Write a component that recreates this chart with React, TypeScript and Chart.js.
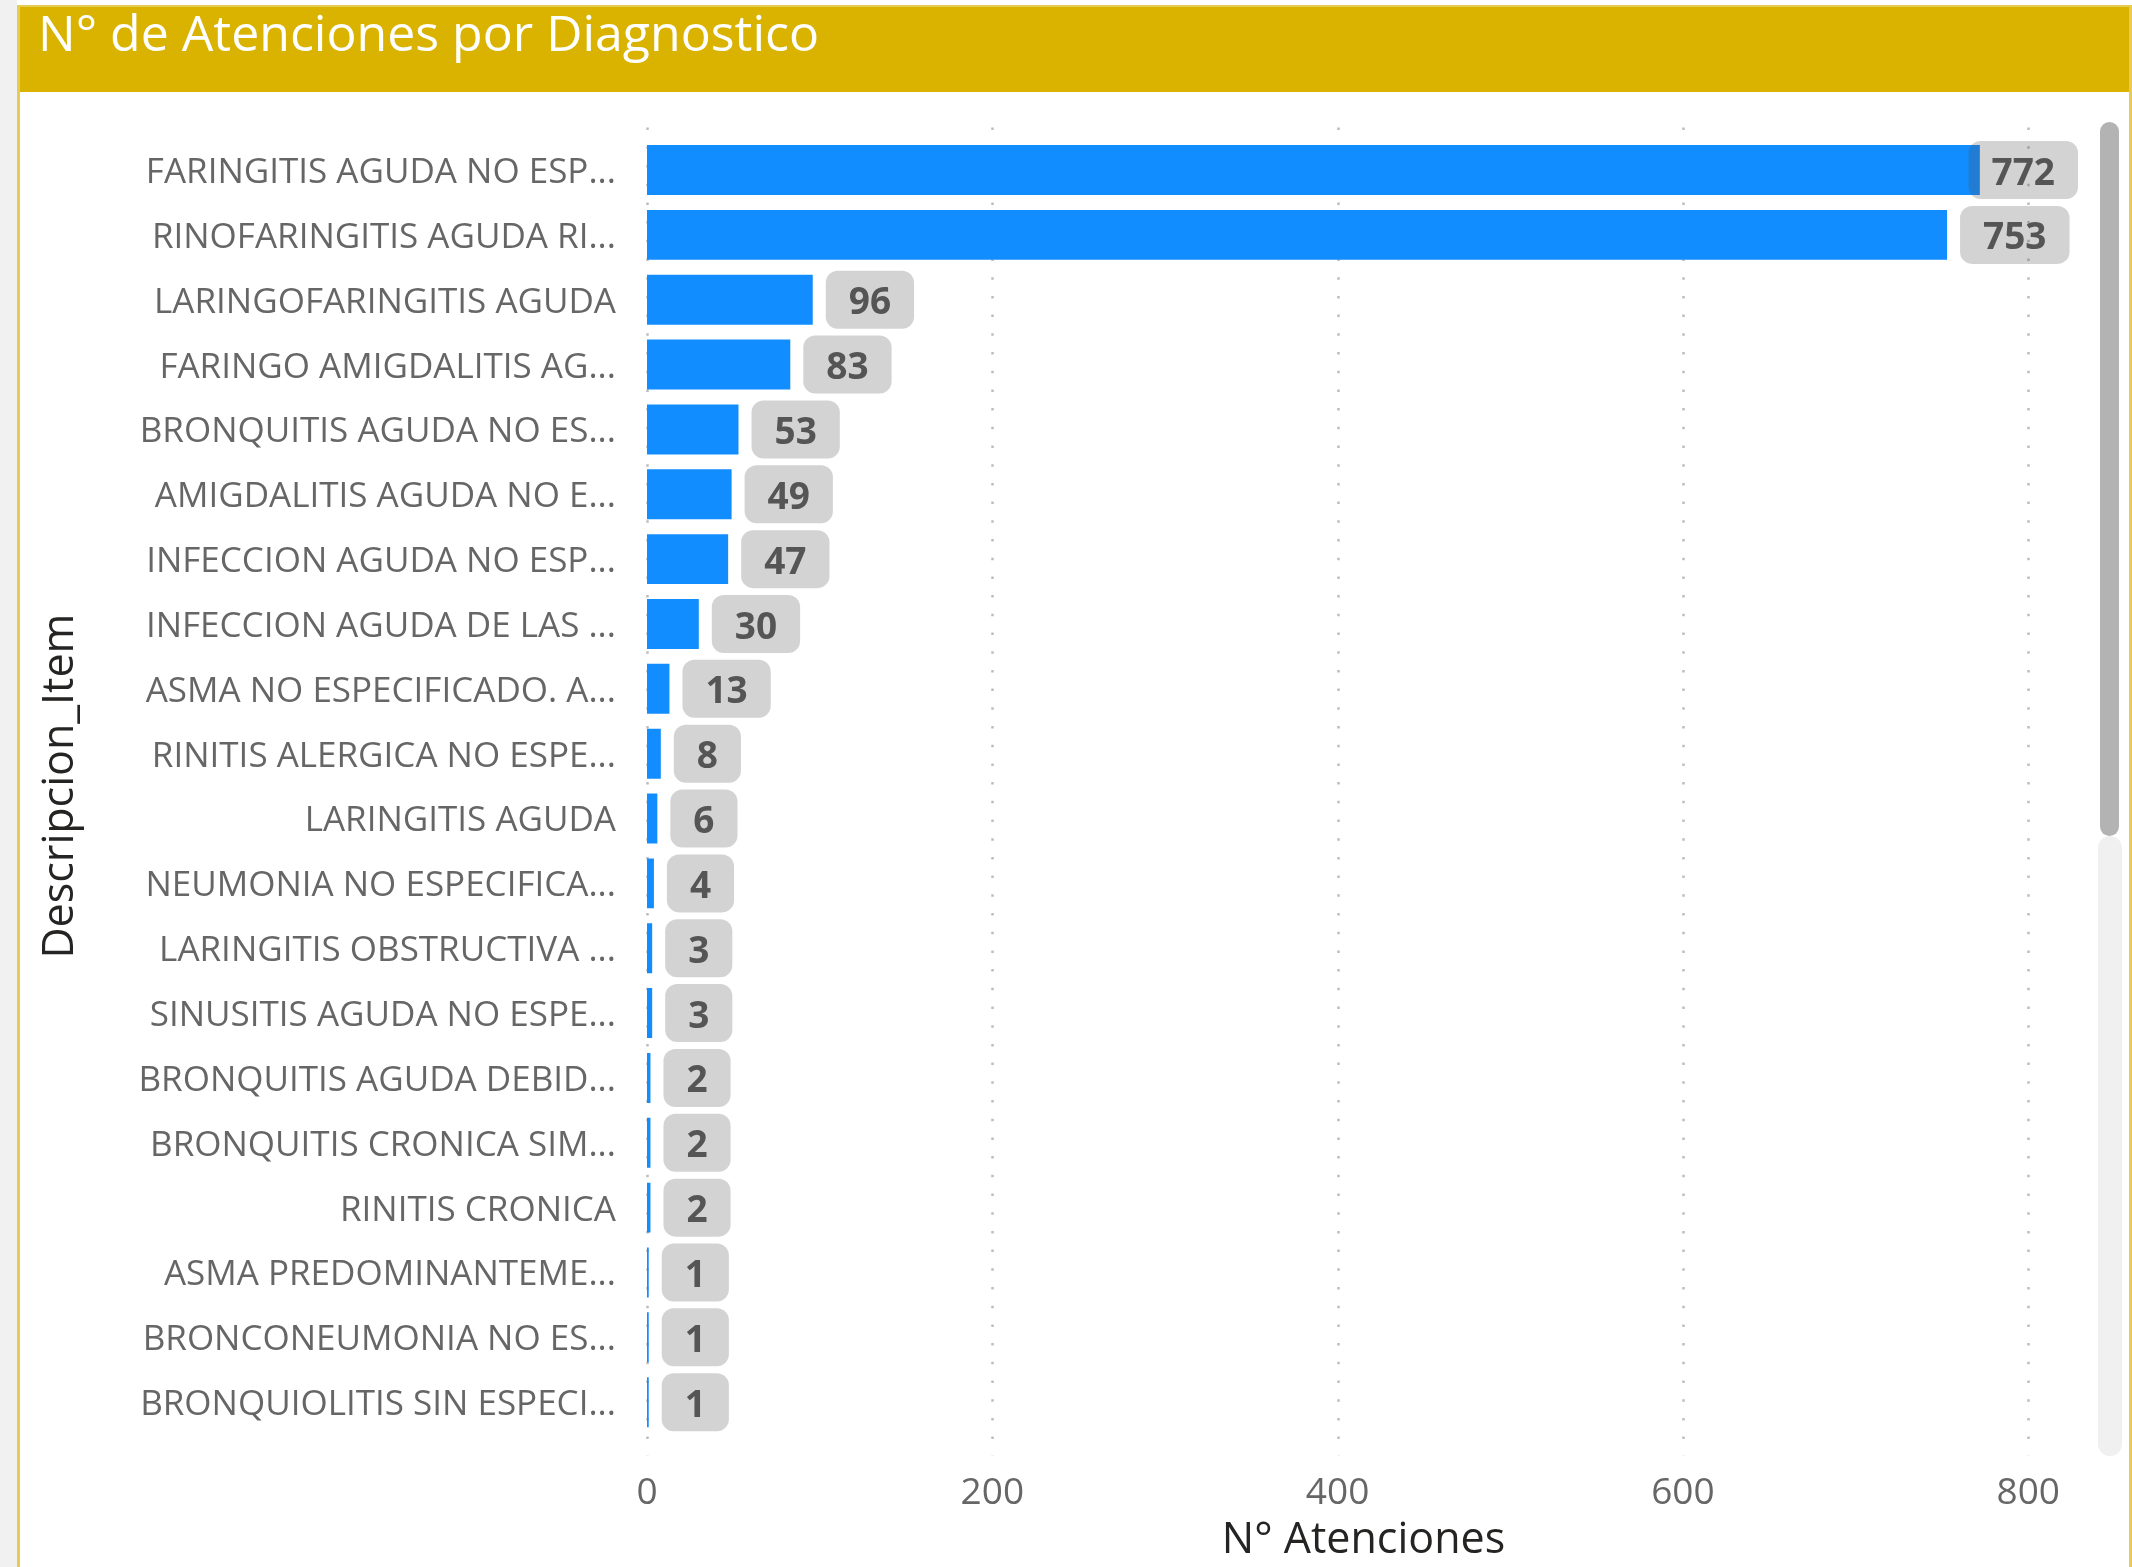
import React, { useEffect, useRef } from "react";
import { Chart, registerables } from "chart.js";

Chart.register(...registerables);

const categories = [
  "FARINGITIS AGUDA NO ESP...",
  "RINOFARINGITIS AGUDA RI...",
  "LARINGOFARINGITIS AGUDA",
  "FARINGO AMIGDALITIS AG...",
  "BRONQUITIS AGUDA NO ES...",
  "AMIGDALITIS AGUDA NO E...",
  "INFECCION AGUDA NO ESP...",
  "INFECCION AGUDA DE LAS ...",
  "ASMA NO ESPECIFICADO. A...",
  "RINITIS ALERGICA NO ESPE...",
  "LARINGITIS AGUDA",
  "NEUMONIA NO ESPECIFICA...",
  "LARINGITIS OBSTRUCTIVA ...",
  "SINUSITIS AGUDA NO ESPE...",
  "BRONQUITIS AGUDA DEBID...",
  "BRONQUITIS CRONICA SIM...",
  "RINITIS CRONICA",
  "ASMA PREDOMINANTEME...",
  "BRONCONEUMONIA NO ES...",
  "BRONQUIOLITIS SIN ESPECI...",
];

const attentions = [772, 753, 96, 83, 53, 49, 47, 30, 13, 8, 6, 4, 3, 3, 2, 2, 2, 1, 1, 1];

const xTickValues = [0, 200, 400, 600, 800];
const xMax = 830;

const chartTitle = "N° de Atenciones por Diagnostico";
const xTitle = "N° Atenciones";
const yTitle = "Descripcion_Item";

const BAR_COLOR = "#118DFF";

const dottedGrid = {
  id: "dottedGrid",
  beforeDatasetsDraw(chart: any) {
    const { ctx, chartArea, scales } = chart;
    const xs = scales.x;
    ctx.save();
    ctx.strokeStyle = "#bdbdbd";
    ctx.lineWidth = 2.5;
    ctx.setLineDash([2.5, 16.2]);
    xs.ticks.forEach((t: any) => {
      const px = Math.round(xs.getPixelForValue(t.value)) + 0.5;
      ctx.beginPath();
      ctx.moveTo(px, chartArea.top - 10);
      ctx.lineTo(px, chartArea.bottom + 21);
      ctx.stroke();
    });
    ctx.restore();
  },
};

const labelBoxes = {
  id: "labelBoxes",
  afterDatasetsDraw(chart: any) {
    const { ctx, chartArea } = chart;
    const meta = chart.getDatasetMeta(0);
    const data = chart.data.datasets[0].data as number[];
    ctx.save();
    ctx.font = "bold 37px 'Open Sans', sans-serif";
    meta.data.forEach((el: any, i: number) => {
      const text = String(data[i]);
      const tw = ctx.measureText(text).width;
      const w = tw + 46;
      const h = 58;
      let left = el.x + 13;
      if (left + w > chartArea.right - 2) left = chartArea.right - 2 - w;
      const top = el.y - h / 2;
      ctx.fillStyle = "rgba(80,80,80,0.25)";
      ctx.beginPath();
      (ctx as any).roundRect(left, top, w, h, 12);
      ctx.fill();
      ctx.fillStyle = "#555555";
      ctx.textAlign = "center";
      ctx.textBaseline = "middle";
      ctx.fillText(text, left + w / 2, el.y + 4);
    });
    ctx.restore();
  },
};

export default function App() {
  const canvasRef = useRef<HTMLCanvasElement | null>(null);

  useEffect(() => {
    document.body.style.margin = "0";
    const canvas = canvasRef.current;
    if (!canvas) return;
    Chart.defaults.font.family = "'Open Sans', sans-serif";
    const chart = new Chart(canvas, {
      type: "bar",
      data: {
        labels: categories,
        datasets: [
          {
            data: attentions,
            backgroundColor: BAR_COLOR,
            borderWidth: 0,
            barPercentage: 0.77,
            categoryPercentage: 1,
          },
        ],
      },
      options: {
        indexAxis: "y",
        animation: false,
        responsive: false,
        layout: { padding: { top: 45.6, right: 52, bottom: 0, left: 0 } },
        plugins: {
          legend: { display: false },
          tooltip: { enabled: false },
          title: { display: false },
        },
        scales: {
          x: {
            type: "linear",
            min: 0,
            max: xMax,
            afterBuildTicks: (scale: any) => {
              scale.ticks = xTickValues.map((v) => ({ value: v }));
            },
            afterFit: (scale: any) => {
              scale.height = 132.4;
              scale.paddingLeft = 0;
              scale.paddingRight = 0;
            },
            border: { display: false },
            grid: { display: false, drawTicks: false },
            ticks: {
              padding: 37,
              color: "#666666",
              font: { size: 37 },
            },
            title: {
              display: true,
              text: xTitle,
              color: "#252423",
              font: { size: 43 },
              padding: { top: 0, bottom: 0 },
            },
          },
          y: {
            afterFit: (scale: any) => {
              scale.width = 647;
              scale.paddingTop = 0;
              scale.paddingBottom = 0;
            },
            border: { display: false },
            grid: { display: false, drawTicks: false },
            ticks: {
              padding: 31,
              labelOffset: 3,
              color: "#666666",
              font: { size: 35 },
              autoSkip: false,
            },
            title: {
              display: true,
              text: yTitle,
              color: "#252423",
              font: { size: 43 },
              padding: { top: 35, bottom: 0 },
            },
          },
        },
      },
      plugins: [dottedGrid, labelBoxes],
    } as any);
    return () => chart.destroy();
  }, []);

  return (
    <div style={{ position: "relative", width: 2132, height: 1567, background: "#ffffff", overflow: "hidden" }}>
      <div style={{ position: "absolute", left: 0, top: 0, width: 17, height: 1567, background: "#f1f1f1" }} />
      <div
        style={{
          position: "absolute",
          left: 17,
          top: 5,
          width: 2109,
          height: 1562,
          borderLeft: "3px solid #e6cb55",
          borderRight: "3px solid #e6cb55",
          borderTop: "2px solid #e6cb55",
          background: "#ffffff",
        }}
      />
      <div
        style={{
          position: "absolute",
          left: 20,
          top: 7,
          width: 2109,
          height: 85,
          background: "#D9B300",
        }}
      />
      <div
        style={{
          position: "absolute",
          left: 38,
          top: 7,
          height: 50,
          lineHeight: "50px",
          fontFamily: "'Open Sans', sans-serif",
          fontSize: 50,
          color: "#ffffff",
          whiteSpace: "nowrap",
        }}
      >
        {chartTitle}
      </div>
      <canvas
        ref={canvasRef}
        width={2132}
        height={1475}
        style={{ position: "absolute", left: 0, top: 92, width: 2132, height: 1475 }}
      />
      <div
        style={{
          position: "absolute",
          left: 2098,
          top: 836,
          width: 24,
          height: 620,
          background: "#f0f0f0",
          borderRadius: 12,
        }}
      />
      <div
        style={{
          position: "absolute",
          left: 2100,
          top: 122,
          width: 19,
          height: 714,
          background: "#b3b3b3",
          borderRadius: 10,
        }}
      />
    </div>
  );
}
